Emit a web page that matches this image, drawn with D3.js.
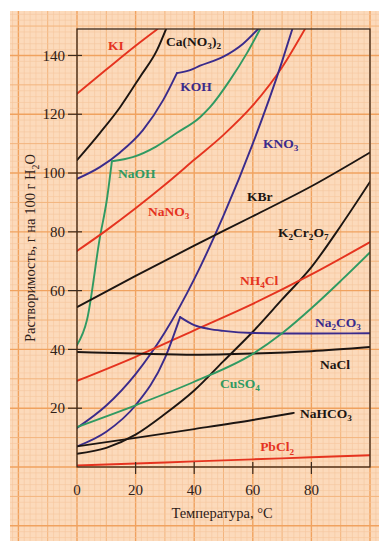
<!DOCTYPE html>
<html><head><meta charset="utf-8">
<script src="https://cdn.jsdelivr.net/npm/d3@7"></script>
<style>body{margin:0;background:#fff}svg{display:block}</style>
</head><body>
<script>
// ---------- data (temperature °C, solubility g / 100 g H2O) ----------
const xTicks = [20, 40, 60, 80];
const yTicks = [20, 40, 60, 80, 100, 120, 140];

const kiData     = [[0,127],[10,135.2],[20,143.3],[27.5,149]];
const canoData   = [[0,104.4],[7.8,113.6],[14.7,122.4],[21.5,132.7],[27.3,141.8],[30.4,149]];
const kohData    = [[0,98],[7.8,102],[14.7,107],[22.5,114.6],[29.4,124.8],[34.1,134],[38.6,135],[42,136.5],[49.8,139.5],[56.7,144],[61.8,149]];
const kohKink    = 34.1;
const naohData   = [[0,41.5],[3.4,50],[7.8,78],[10.2,91],[11.9,104],[19,105.4],[27,109],[34,113.6],[42,119],[45.4,122.4],[52.2,131.6],[58,140.8],[62.5,149]];
const naohKink   = 11.9;
const nano3Data  = [[0,73.5],[10,80.5],[20,88],[30,96],[40,104.5],[50,113],[60,123],[70,136],[77.8,149]];
const kno3Data   = [[0,13.3],[10,20.9],[20,31.6],[30,45.8],[40,63.9],[50,85.5],[60,110],[70,138],[73.5,149]];
const kbrData    = [[0,54.4],[20,65],[40,75.3],[60,85.3],[80,95.5],[100,107]];
const k2cr2o7Data= [[0,4.5],[10,6.5],[20,11],[30,18],[40,26],[50,36],[60,46],[70,57],[80,68],[90,82],[100,97]];
const nh4clData  = [[0,29.3],[20,37.5],[40,46.5],[60,55.5],[80,65.5],[100,76.5]];
const na2co3Data = [[0,7],[10,12],[20,21],[30,37],[35.2,51],[40,48.3],[45,47],[50,46.3],[60,45.6],[80,45.4],[100,45.5]];
const na2co3Kink = 35.2;
const naclData   = [[0,39.1],[20,38.6],[40,38.2],[60,38.6],[80,39.4],[100,40.8]];
const cuso4Data  = [[0,13.6],[20,21],[40,29],[60,38.5],[70,45.5],[80,54],[90,63.3],[100,73]];
const nahco3Data = [[0,7],[20,9.9],[40,12.9],[60,16],[74,18.4]];
const pbcl2Data  = [[0,0.5],[20,1.2],[40,1.9],[60,2.6],[80,3.3],[100,4]];

// ---------- styles ----------
const RED = "#e5331f", BLACK = "#1c1512", PURPLE = "#3a2b8c", GREEN = "#2f9a62";

const series = [
  {name:"KI",       data:kiData,      color:RED},
  {name:"Ca(NO3)2", data:canoData,    color:BLACK},
  {name:"KOH",      data:kohData,     color:PURPLE, kink:kohKink},
  {name:"NaOH",     data:naohData,    color:GREEN,  kink:naohKink},
  {name:"NaNO3",    data:nano3Data,   color:RED},
  {name:"KNO3",     data:kno3Data,    color:PURPLE},
  {name:"KBr",      data:kbrData,     color:BLACK},
  {name:"K2Cr2O7",  data:k2cr2o7Data, color:BLACK},
  {name:"NH4Cl",    data:nh4clData,   color:RED},
  {name:"Na2CO3",   data:na2co3Data,  color:PURPLE, kink:na2co3Kink},
  {name:"NaCl",     data:naclData,    color:BLACK},
  {name:"CuSO4",    data:cuso4Data,   color:GREEN},
  {name:"NaHCO3",   data:nahco3Data,  color:BLACK},
  {name:"PbCl2",    data:pbcl2Data,   color:RED}
];

// labels: "_" marks the next char as subscript; anchor = left/baseline in data coords
const labels = [
  {text:"KI",          t:10.6, v:141.8, color:RED},
  {text:"Ca(NO_3)_2",  t:30.4, v:143.2, color:BLACK},
  {text:"KOH",         t:35.2, v:127.9, color:PURPLE},
  {text:"NaOH",        t:14.0, v:98.3,  color:GREEN},
  {text:"NaNO_3",      t:24.2, v:85.4,  color:RED},
  {text:"KNO_3",       t:63.5, v:108.5, color:PURPLE},
  {text:"KBr",         t:58.0, v:90.5,  color:BLACK},
  {text:"K_2Cr_2O_7",  t:68.6, v:78.2,  color:BLACK},
  {text:"NH_4Cl",      t:55.6, v:61.9,  color:RED},
  {text:"Na_2CO_3",    t:81.2, v:47.6,  color:PURPLE},
  {text:"NaCl",        t:82.9, v:33.3,  color:BLACK},
  {text:"CuSO_4",      t:48.8, v:26.9,  color:GREEN},
  {text:"NaHCO_3",     t:76.1, v:16.7,  color:BLACK},
  {text:"PbCl_2",      t:62.5, v:5.4,   color:RED}
];

// ---------- chart ----------
const W = 387, H = 549;
const x = d3.scaleLinear().domain([0,100]).range([77,370]);
const y = d3.scaleLinear().domain([0,149]).range([467,29]);
const FONT = "'Liberation Serif','Times New Roman',serif";

const svg = d3.select("body").append("svg").attr("width",W).attr("height",H);

// graph paper
const paper = {x0:10, y0:11, x1:379, y1:541};
svg.append("rect").attr("x",paper.x0).attr("y",paper.y0)
  .attr("width",paper.x1-paper.x0).attr("height",paper.y1-paper.y0)
  .attr("fill","#fcdabb");
const grid = svg.append("g");
function gstyle(k){
  if (k%20===0) return {c:"#f0a25f", w:1.4};
  if (k%10===0) return {c:"#f3b47d", w:1.0};
  return {c:"#f5c69d", w:0.6};
}
d3.range(-30,110,2).forEach(t=>{
  const px = x(t); if (px<paper.x0||px>paper.x1) return;
  const s = gstyle(Math.abs(t));
  grid.append("line").attr("x1",px).attr("x2",px).attr("y1",paper.y0).attr("y2",paper.y1)
    .attr("stroke",s.c).attr("stroke-width",s.w);
});
d3.range(-30,170,2).forEach(v=>{
  const py = y(v); if (py<paper.y0||py>paper.y1) return;
  const s = gstyle(Math.abs(v));
  grid.append("line").attr("y1",py).attr("y2",py).attr("x1",paper.x0).attr("x2",paper.x1)
    .attr("stroke",s.c).attr("stroke-width",s.w);
});

// clip
svg.append("clipPath").attr("id","plot").append("rect")
  .attr("x",x(0)).attr("y",y(149)).attr("width",x(100)-x(0)).attr("height",y(0)-y(149));

// curves
const line = d3.line().x(d=>x(d[0])).y(d=>y(d[1])).curve(d3.curveMonotoneX);
const curves = svg.append("g").attr("clip-path","url(#plot)");
series.forEach(s=>{
  const segs = s.kink===undefined ? [s.data]
    : [s.data.filter(d=>d[0]<=s.kink), s.data.filter(d=>d[0]>=s.kink)];
  segs.forEach(seg=>{
    curves.append("path").attr("d",line(seg)).attr("fill","none")
      .attr("stroke",s.color).attr("stroke-width",1.9)
      .attr("stroke-linejoin","round").attr("stroke-linecap","round");
  });
});

// frame
const AX = "#3b2a1e";
svg.append("rect").attr("x",x(0)).attr("y",y(149))
  .attr("width",x(100)-x(0)).attr("height",y(0)-y(149))
  .attr("fill","none").attr("stroke",AX).attr("stroke-width",1.3);

// axes ticks
const yAxis = svg.append("g");
yTicks.forEach(v=>{
  yAxis.append("line").attr("x1",x(0)-9).attr("x2",x(0)+5).attr("y1",y(v)).attr("y2",y(v))
    .attr("stroke",AX).attr("stroke-width",1.2);
  yAxis.append("text").attr("x",x(0)-12).attr("y",y(v)).attr("dy","0.35em")
    .attr("text-anchor","end").attr("font-family",FONT).attr("font-size",15)
    .attr("fill","#2e2018").text(v);
});
const xAxis = svg.append("g");
xTicks.forEach(t=>{
  xAxis.append("line").attr("x1",x(t)).attr("x2",x(t)).attr("y1",y(0)-5).attr("y2",y(0)+7)
    .attr("stroke",AX).attr("stroke-width",1.2);
});
[0].concat(xTicks).forEach(t=>{
  xAxis.append("text").attr("x",x(t)).attr("y",y(0)+28)
    .attr("text-anchor","middle").attr("font-family",FONT).attr("font-size",15)
    .attr("fill","#2e2018").text(t);
});

// helper for subscripts (no empty tspans)
function richText(sel, str, size){
  const parts = [];
  let i = 0;
  while (i < str.length) {
    if (str[i] === "_" && i+1 < str.length) { parts.push({s:str[i+1], sub:true}); i += 2; }
    else { let j = i; while (j < str.length && str[j] !== "_") j++; parts.push({s:str.slice(i,j), sub:false}); i = j; }
  }
  let shifted = 0;
  parts.forEach(p=>{
    const ts = sel.append("tspan").text(p.s);
    const target = p.sub ? size*0.25 : 0;
    if (target !== shifted) { ts.attr("dy", target - shifted); shifted = target; }
    if (p.sub) ts.attr("font-size", size*0.68);
  });
}

// axis titles
svg.append("text").attr("x",222).attr("y",y(0)+51).attr("text-anchor","middle")
  .attr("font-family",FONT).attr("font-size",14.5).attr("fill","#2e2018")
  .text("Температура, °С");
const yt = svg.append("text").attr("transform","translate(35,248) rotate(-90)")
  .attr("text-anchor","middle").attr("font-family",FONT).attr("font-size",14.5)
  .attr("fill","#2e2018");
richText(yt, "Растворимость, г на 100 г H_2O", 14.5);

// curve labels
labels.forEach(l=>{
  const t = svg.append("text").attr("x",x(l.t)).attr("y",y(l.v))
    .attr("font-family",FONT).attr("font-size",13.5).attr("font-weight","bold")
    .attr("fill",l.color);
  richText(t, l.text, 13.5);
});
</script>
</body></html>
